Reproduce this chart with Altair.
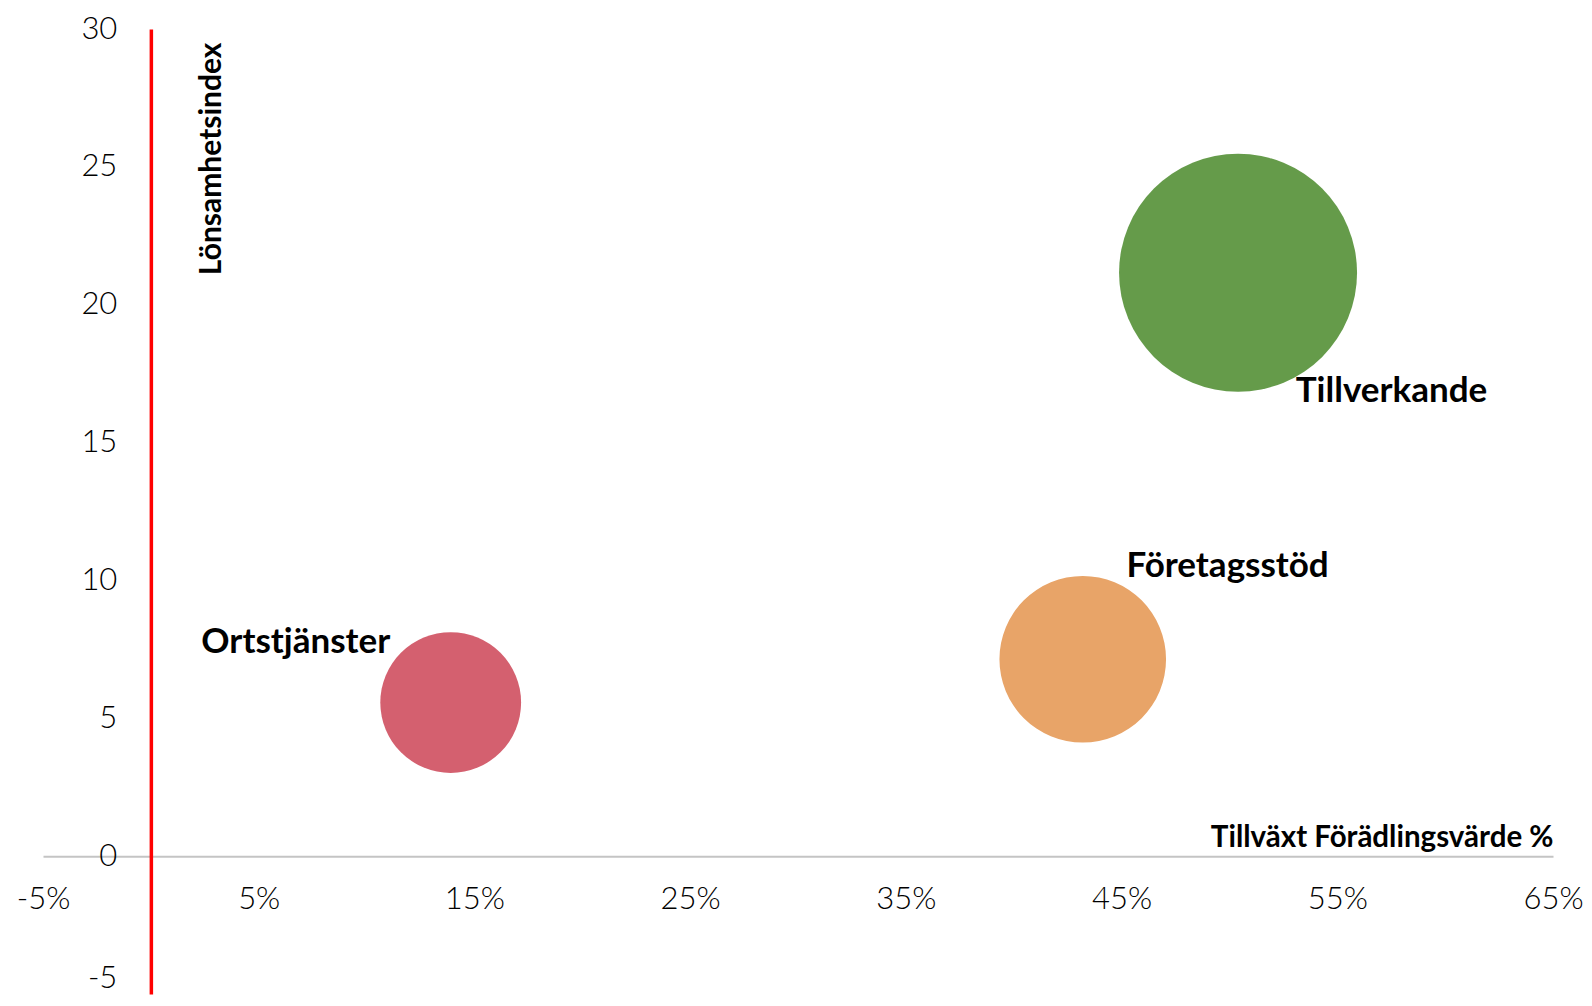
import altair as alt
import pandas as pd

# --- data ---
sektorer = ["Ortstjänster", "Företagsstöd", "Tillverkande"]
tillvaxt = [13.9, 43.2, 50.4]          # Tillväxt förädlingsvärde, %
lonsamhet = [5.57, 7.14, 21.16]        # Lönsamhetsindex
storlek = [35, 49, 100]                # relative bubble size
farger = ["#D4606F", "#E8A468", "#659B4A"]

x_ticks = [-5, 5, 15, 25, 35, 45, 55, 65]
y_ticks = [-5, 0, 5, 10, 15, 20, 25, 30]
x_domain = [-5, 65]
y_domain = [-5, 30]

df = pd.DataFrame({"sektor": sektorer, "tillvaxt": tillvaxt,
                   "lonsamhet": lonsamhet, "storlek": storlek})

W, H = 1510, 965
x_off = -W * (0 - x_domain[0]) / (x_domain[1] - x_domain[0])
y_off = -H * (0 - y_domain[0]) / (y_domain[1] - y_domain[0])

TICK_FONT = "Lato"
BOLD_FONT = "Lato"

x_enc = alt.X(
    "tillvaxt:Q",
    scale=alt.Scale(domain=x_domain, nice=False, zero=False),
    axis=alt.Axis(
        values=x_ticks, labelExpr="'' + datum.value + '%'", grid=False, ticks=False, tickSize=0,
        domainColor="#C4C4C4", domainWidth=2, offset=y_off,
        labelFont=TICK_FONT, labelFontWeight=300, labelFontSize=31, labelColor="#000000",
        labelPadding=28, labelFlush=False, labelOverlap=False, labelBound=False,
        title="Tillväxt Förädlingsvärde %", titleFont=BOLD_FONT, titleFontWeight="bold",
        titleFontSize=29.5, titleColor="#000000", titleX=W, titleY=-9.5,
        titleAlign="right", titleBaseline="alphabetic", zindex=0,
    ),
)
y_enc = alt.Y(
    "lonsamhet:Q",
    scale=alt.Scale(domain=y_domain, nice=False, zero=False),
    axis=alt.Axis(
        values=y_ticks, labelExpr="'' + datum.value", grid=False, ticks=False, tickSize=0,
        domainColor="#FF0000", domainWidth=3.5, offset=x_off,
        labelFont=TICK_FONT, labelFontWeight=300, labelFontSize=31, labelColor="#000000",
        labelPadding=34, labelFlush=False, labelOverlap=False, labelBound=False,
        labelBaseline={"condition": {"test": "datum.value == -5", "value": "bottom"}, "value": "middle"},
        title="Lönsamhetsindex", titleFont=BOLD_FONT, titleFontWeight="bold",
        titleFontSize=30, titleColor="#000000", titleAngle=270, titleX=70, titleY=13,
        titleAlign="right", titleBaseline="alphabetic", zindex=1,
    ),
)

bubbles = alt.Chart(df).mark_circle(opacity=1).encode(
    x=x_enc,
    y=y_enc,
    size=alt.Size("storlek:Q", scale=alt.Scale(domain=[0, 100], range=[0, 56644]), legend=None),
    color=alt.Color("sektor:N", scale=alt.Scale(domain=sektorer, range=farger), legend=None),
)

label_style = {
    "Ortstjänster": dict(align="right", dx=-60.5, dy=-49.5),
    "Företagsstöd": dict(align="left", dx=43.7, dy=-82.6),
    "Tillverkande": dict(align="left", dx=57.7, dy=129),
}

labels = []
for name in sektorer:
    st = label_style[name]
    labels.append(
        alt.Chart(df).transform_filter(alt.datum.sektor == name).mark_text(
            font=BOLD_FONT, fontWeight="bold", fontSize=35, color="#000000",
            baseline="alphabetic", **st
        ).encode(x="tillvaxt:Q", y="lonsamhet:Q", text="sektor:N")
    )

chart = alt.layer(bubbles, *labels).properties(
    width=W, height=H,
    background="#FFFFFF",
    autosize=alt.AutoSizeParams(type="none"),
    padding={"left": 35, "top": 21, "right": 31, "bottom": 4},
).configure_view(strokeWidth=0, stroke="transparent")

chart.save("out.html", embed_options={"renderer": "svg", "actions": False})
